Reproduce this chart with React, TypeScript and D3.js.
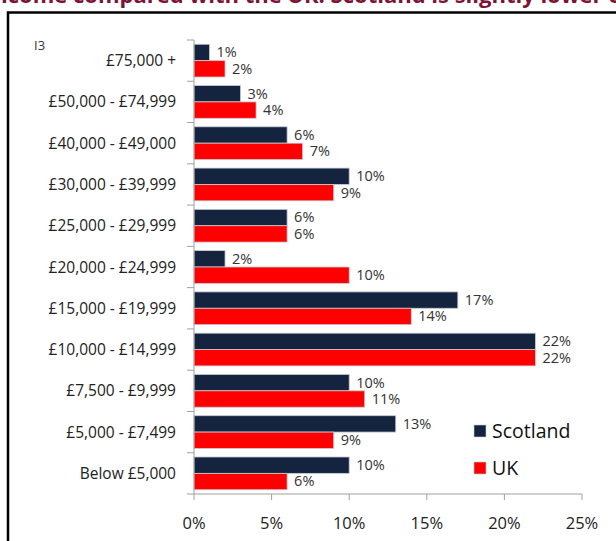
import * as d3 from 'd3'

const categories = [
  '£75,000 +',
  '£50,000 - £74,999',
  '£40,000 - £49,000',
  '£30,000 - £39,999',
  '£25,000 - £29,999',
  '£20,000 - £24,999',
  '£15,000 - £19,999',
  '£10,000 - £14,999',
  '£7,500 - £9,999',
  '£5,000 - £7,499',
  'Below £5,000',
]
const scotland = [1, 3, 6, 10, 6, 2, 17, 22, 10, 13, 10]
const uk = [2, 4, 7, 9, 6, 10, 14, 22, 11, 9, 6]
const seriesNames = ['Scotland', 'UK']
const xTicks = [0, 5, 10, 15, 20, 25]

const W = 616
const H = 541
const font = "'Open Sans', sans-serif"
const colors = ['#14243f', '#ff0000']

export default function App() {
  const x = d3.scaleLinear().domain([0, 25]).range([194, 582])
  const y = d3.scaleBand().domain(categories).range([40, 494])
  const inner = d3.scaleBand().domain(seriesNames).range([0, y.bandwidth()]).paddingOuter(0.26)
  const series = [scotland, uk]

  return (
    <svg width={W} height={H} style={{ position: 'absolute', left: 0, top: 0, background: '#fff' }} fontFamily={font}>
      {/* title, cut off by the page edge */}
      <text x={-14} y={3} fill="#7b1436" fontSize={22} fontWeight="bold">
        Income compared with the UK: Scotland is slightly lower on monthly
      </text>
      <path d={`M8,${H} V12.5 H${W}`} fill="none" stroke="#000" strokeWidth={2.5} />
      <text x={34} y={50} fontSize={13} fill="#333">I3</text>

      {categories.map((c, i) => (
        <g key={c}>
          {series.map((s, k) => {
            const yy = y(c)! + inner(seriesNames[k])!
            const h = inner.bandwidth()
            return (
              <g key={k}>
                <rect x={x(0)} y={yy} width={x(s[i]) - x(0)} height={h}
                  fill={colors[k]} stroke="#c8ccd4" strokeWidth={0.8} />
                <text x={x(s[i]) + 7} y={yy + h / 2} dy="0.34em" fontSize={14.5} fill="#333">
                  {s[i]}%
                </text>
              </g>
            )
          })}
          <text x={176} y={y(c)! + y.bandwidth() / 2} dy="0.36em" textAnchor="end" fontSize={15.5} fill="#222">
            {c}
          </text>
        </g>
      ))}

      {/* y axis */}
      <line x1={x(0)} x2={x(0)} y1={40} y2={494} stroke="#a0a0a0" />
      {d3.range(categories.length + 1).map(i => {
        const yy = 40 + i * y.step()
        return <line key={i} x1={187} x2={x(0)} y1={yy} y2={yy} stroke="#a0a0a0" />
      })}

      {/* x axis */}
      <line x1={x(0)} x2={x(25)} y1={494} y2={494} stroke="#a0a0a0" />
      {xTicks.map(t => (
        <g key={t}>
          <line x1={x(t)} x2={x(t)} y1={494} y2={500} stroke="#a0a0a0" />
          <text x={x(t)} y={523} dy="0.36em" textAnchor="middle" fontSize={16.5} fill="#222">{t}%</text>
        </g>
      ))}

      {/* legend */}
      {seriesNames.map((n, k) => (
        <g key={n} transform={`translate(474,${425 + k * 37})`}>
          <rect width={12} height={12} fill={colors[k]} stroke="#c8ccd4" strokeWidth={0.6} />
          <text x={18} y={6} dy="0.36em" fontSize={19.5} fill="#111">{n}</text>
        </g>
      ))}
    </svg>
  )
}
